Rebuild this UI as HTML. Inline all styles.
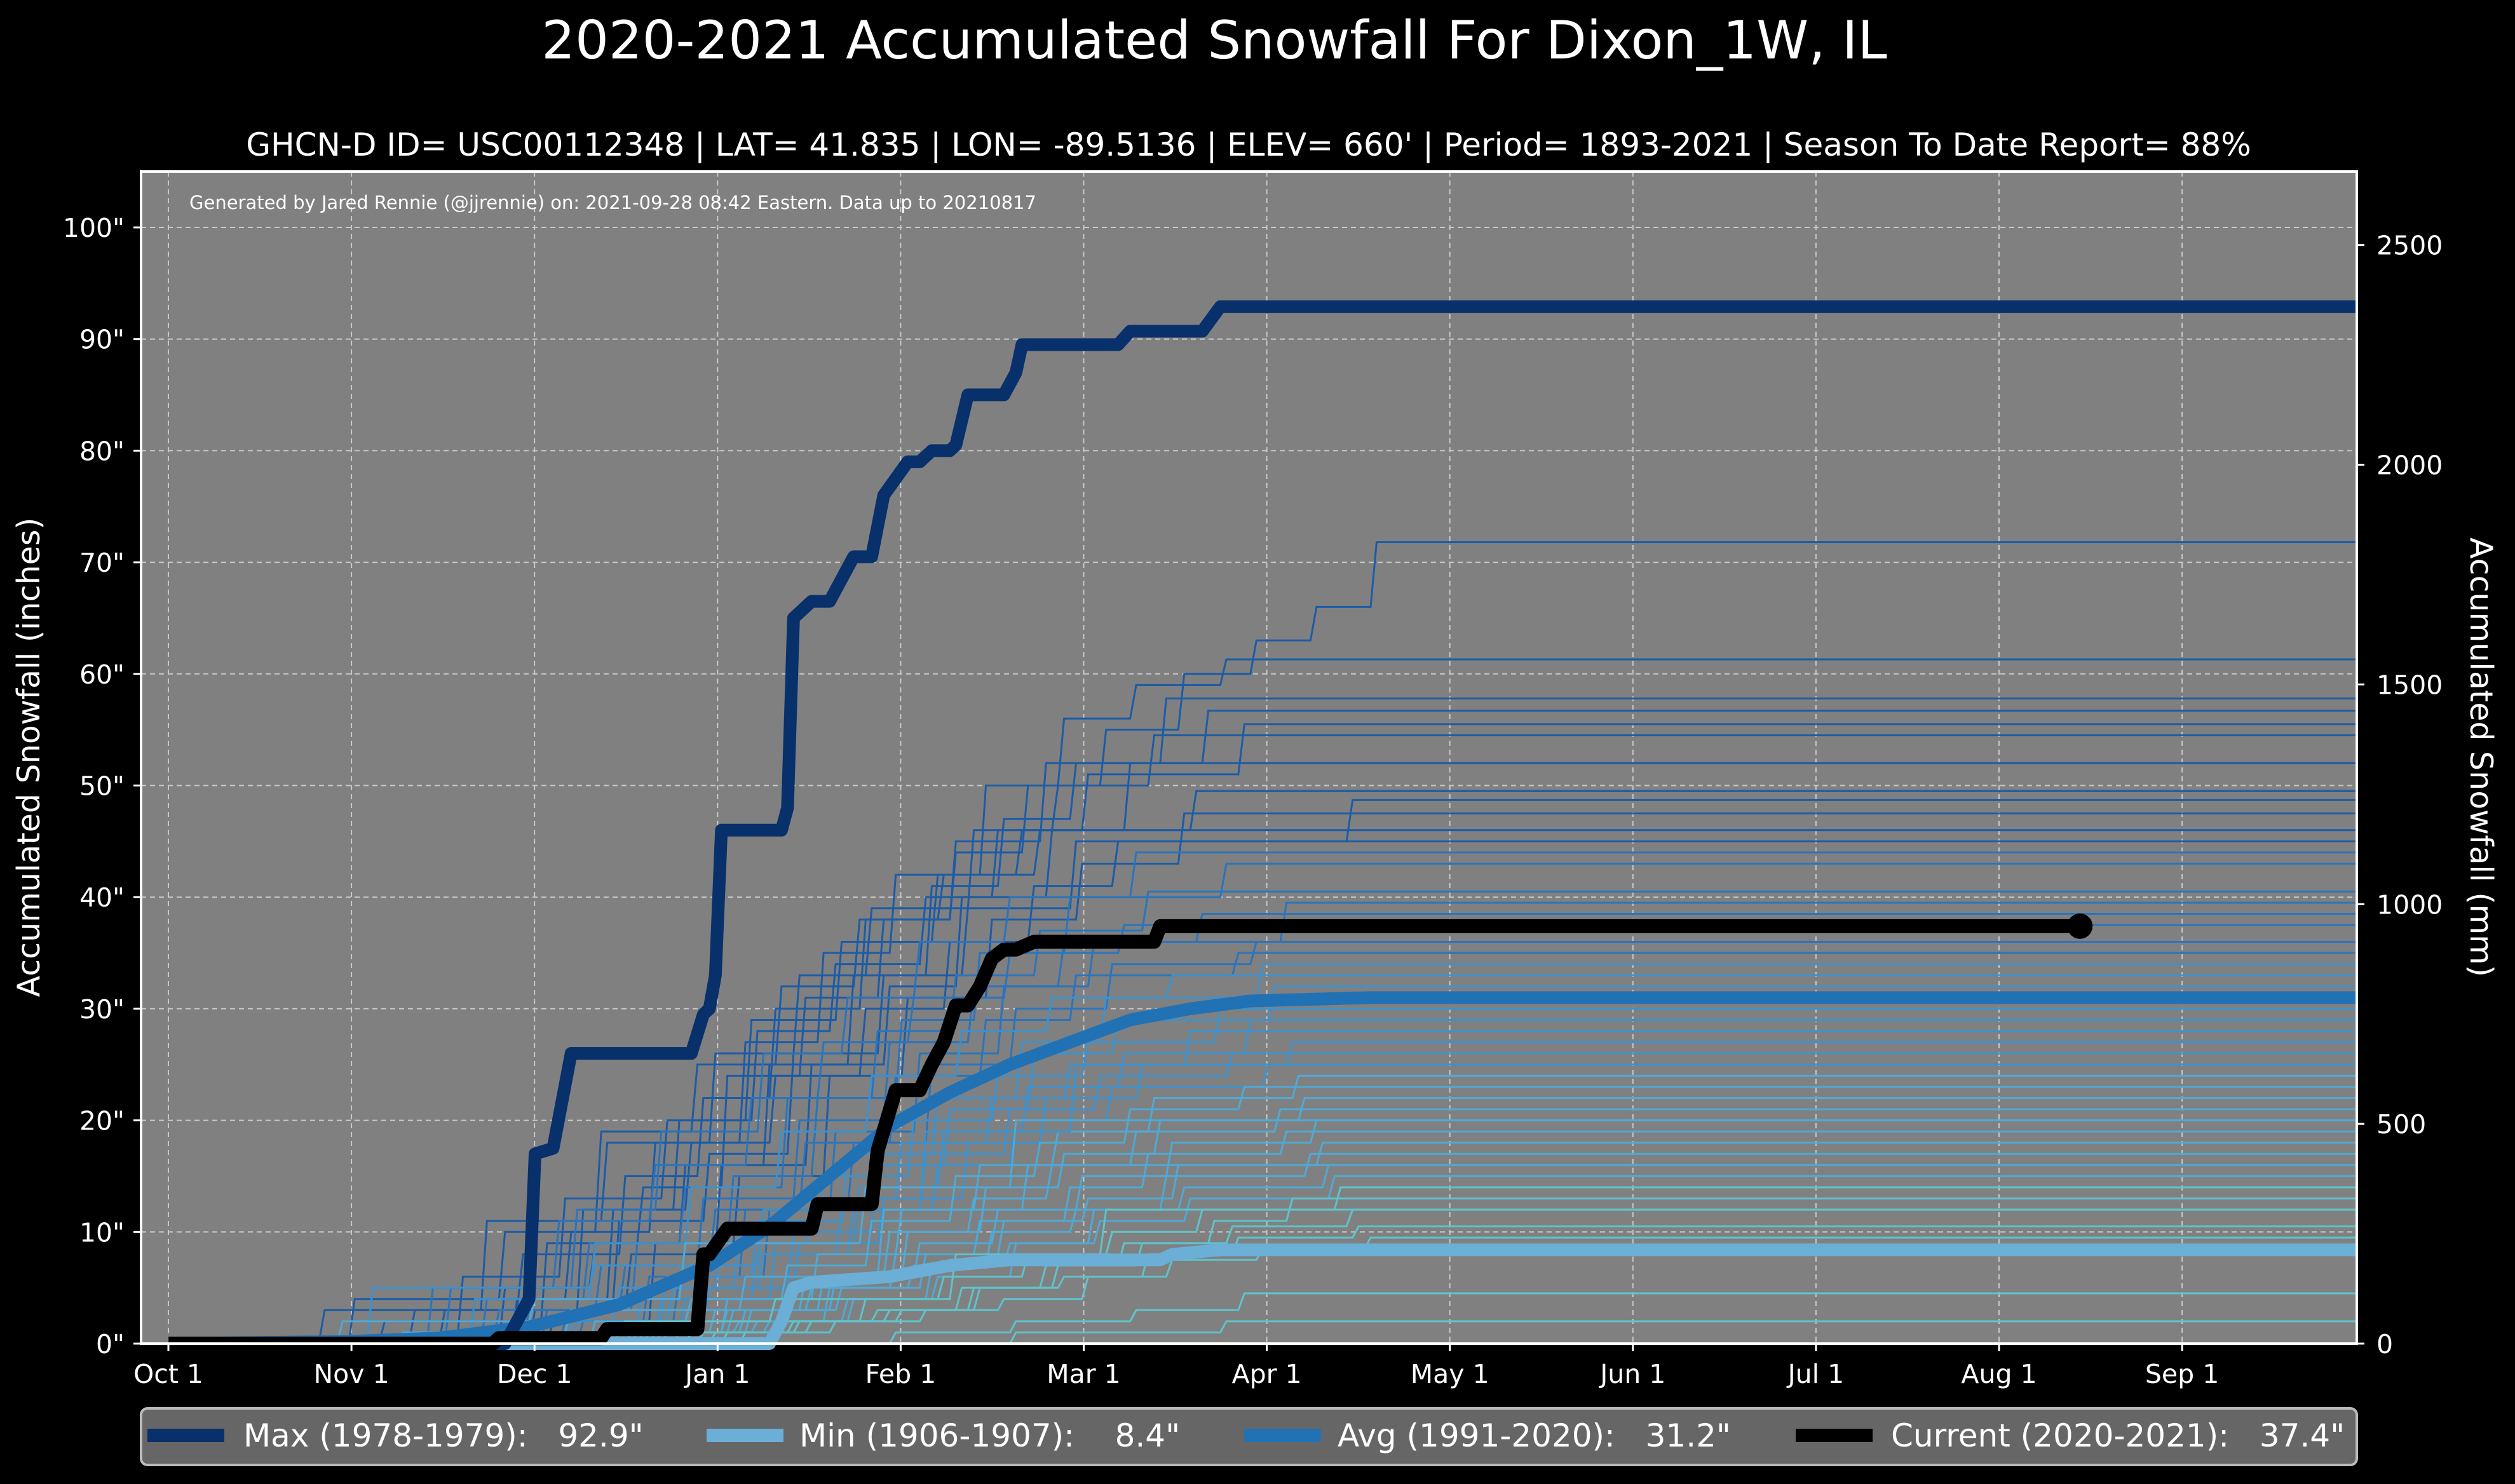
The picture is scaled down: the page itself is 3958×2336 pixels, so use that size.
<!DOCTYPE html>
<html><head><meta charset="utf-8"><style>
html,body{margin:0;padding:0;background:#000;}
svg{display:block;font-family:"DejaVu Sans","Liberation Sans",sans-serif;}
</style></head><body>
<svg id="chart" width="3958" height="2336" xmlns="http://www.w3.org/2000/svg">
<rect x="0" y="0" width="3958" height="2336" fill="#000"/>
<text x="1911" y="92" text-anchor="middle" font-size="83" fill="#fff">2020-2021 Accumulated Snowfall For Dixon_1W, IL</text>
<text x="1965" y="245" text-anchor="middle" font-size="50" fill="#fff">GHCN-D ID= USC00112348 | LAT= 41.835 | LON= -89.5136 | ELEV= 660' | Period= 1893-2021 | Season To Date Report= 88%</text>
<rect x="222" y="270" width="3487" height="1845" fill="#808080"/>
<g id="grid"></g>
<g id="seasons"></g>
<g id="main"></g>
<rect x="222" y="270" width="3487" height="1845" fill="none" stroke="#fff" stroke-width="4"/>
<text x="298" y="329" font-size="29" fill="#fff">Generated by Jared Rennie (@jjrennie) on: 2021-09-28 08:42 Eastern. Data up to 20210817</text>
<g id="axes"></g>
<text transform="translate(62,1192) rotate(-90)" text-anchor="middle" font-size="49" fill="#fff">Accumulated Snowfall (inches)</text>
<text transform="translate(3888,1192) rotate(90)" text-anchor="middle" font-size="49" fill="#fff">Accumulated Snowfall (mm)</text>
<g>
<rect x="222" y="2217" width="3487" height="89" rx="10" fill="#666" stroke="#bbb" stroke-width="4"/>
<rect x="232" y="2249" width="121" height="21" fill="#08306b"/>
<text x="383" y="2277" font-size="50" fill="#fff" xml:space="preserve">Max (1978-1979):   92.9"</text>
<rect x="1112" y="2249" width="121" height="21" fill="#6baed6"/>
<text x="1258" y="2277" font-size="50" fill="#fff" xml:space="preserve">Min (1906-1907):    8.4"</text>
<rect x="1958" y="2249" width="121" height="21" fill="#2171b5"/>
<text x="2105" y="2277" font-size="50" fill="#fff" xml:space="preserve">Avg (1991-2020):   31.2"</text>
<rect x="2826" y="2249" width="121" height="21" fill="#000"/>
<text x="2976" y="2277" font-size="50" fill="#fff" xml:space="preserve">Current (2020-2021):   37.4"</text>
</g>
</svg>
<script>
// ---- data ----
const monthLabels = ["Oct 1","Nov 1","Dec 1","Jan 1","Feb 1","Mar 1","Apr 1","May 1","Jun 1","Jul 1","Aug 1","Sep 1"];
const yTicks = [0,10,20,30,40,50,60,70,80,90,100];
const mmTicks = [0,500,1000,1500,2000,2500];
// Max season 1978-79: [day, inches]
const maxDays = [0,56,58,60,61,64,67,87,89,90,91,92,102,103,104,107,110,114,117,119,121,123,125,127,130,131,133,135,139,141,142,158,160,172,175,364];
const maxVals = [0,0,2,4,17,17.5,26,26,29.5,30,33,46,46,48,65,66.5,66.5,70.5,70.5,76,77.5,79,79,80,80,80.5,85,85,85,87,89.5,89.5,90.7,90.7,92.9,92.9];
// Current 2020-21
const curDays = [0,54,55,72,73,88,89,90,93,107,108,117,118,121,125,127,129,131,133,135,137,139,141,144,145,164,165,318];
const curVals = [0,0,0.5,0.5,1.3,1.3,8,8,10.3,10.3,12.5,12.5,17.3,22.7,22.7,25,27,30.3,30.3,32,34.5,35.3,35.3,36,36,36,37.4,37.4];
// Average 1991-2020
const avgDays = [0,30,45,60,75,90,100,110,120,130,140,150,160,170,180,200,364];
const avgVals = [0,0.2,0.5,1.5,3.5,7,10.5,15,19.5,22.5,25,27,29,30,30.7,31,31];
// Min 1906-07
const minDays = [0,100,102,104,107,120,130,140,165,167,175,364];
const minVals = [0,0,2,5,5.5,6,7,7.5,7.5,8,8.4,8.4];
// Other seasons: "day:cumulative inches" storm steps
const seasonSteps = [
"40:3 58:8 75:15 88:22 100:30 115:38 130:44 142:50 155:55 168:60 180:63 190:66 200:71.8",
"50:4 66:10 80:18 95:27 108:35 120:42 135:50 148:56 160:59 175:61.3",
"35:2 62:9 78:14 92:24 105:31 118:38 130:45 145:52 165:57.8",
"55:5 70:9 85:16 99:25 113:33 126:41 138:47 150:52 172:56.7",
"45:3 68:12 84:20 97:28 110:34 125:40 137:46 152:51 178:55.5",
"25:3 52:11 72:18 90:26 104:33 116:39 133:46 147:50 163:54.5",
"60:3 76:8 91:16 106:25 119:32 131:40 146:46 159:52",
"48:6 65:13 82:20 96:29 111:36 127:42 141:46 170:49.5",
"58:4 74:11 89:17 103:26 118:33 132:39 150:45 196:48.7",
"63:2 80:9 94:15 109:24 122:31 136:38 151:43 168:47.5",
"30:4 55:10 71:19 87:25 101:32 114:38 128:42 144:46",
"57:4 73:12 86:18 100:24 115:30 129:36 143:41 157:45",
"46:5 67:12 81:19 98:26 112:31 124:36 139:40 160:44",
"62:3 77:9 93:15 107:22 121:29 134:35 149:40 175:43",
"52:4 69:9 85:14 102:22 117:28 130:33 144:37 162:40.5",
"65:2 79:6 95:12 110:19 124:26 138:32 153:36 185:39.5",
"54:3 71:7 88:13 104:20 119:27 133:32 148:36 171:38.5",
"43:5 64:11 80:16 96:22 108:27 123:31 139:35 158:37.5",
"68:2 84:6 99:12 113:18 126:25 140:30 156:34 180:36",
"59:3 75:7 90:12 105:18 120:24 135:29 150:33 177:35",
"66:2 82:6 97:11 112:17 127:22 141:27 155:31 181:34",
"50:4 70:9 86:14 101:19 116:24 131:28 146:31 166:33",
"72:1 87:5 103:10 117:16 129:21 143:26 157:29 183:32",
"61:2 78:5 94:10 108:15 123:20 137:24 152:27 174:30",
"69:1 85:4 100:9 114:14 128:19 142:23 158:26 179:29",
"56:2 74:5 91:9 106:13 121:18 136:22 149:25 169:28",
"73:2 89:5 104:9 118:13 132:18 145:22 161:25 186:27",
"64:1 81:4 97:8 111:12 125:17 139:21 154:24 176:26",
"67:2 83:5 98:8 113:12 127:16 140:20 156:23 182:25",
"76:1 92:4 107:8 121:12 134:16 147:19 163:22 187:24",
"70:2 86:4 102:7 116:11 130:15 144:18 159:21 178:23",
"78:1 93:3 108:6 122:10 135:14 148:17 164:20 188:22",
"74:1 90:3 105:6 119:10 133:13 146:16 160:19 184:21",
"80:1 95:3 110:6 124:9 137:12 151:15 166:18 190:20",
"77:1 92:3 106:5 120:8 134:11 149:14 162:17 185:19",
"82:1 96:3 111:5 125:8 138:11 152:13 167:16 191:18",
"79:1 94:2 109:5 123:7 136:10 150:12 165:15 189:17",
"84:1 99:2 113:4 126:7 139:9 153:12 168:14 192:16",
"81:1 97:2 112:4 127:6 140:9 154:11 169:13 193:15",
"86:1 101:2 115:4 128:6 142:8 156:10 171:12 194:14",
"88:1 103:2 117:3 131:5 145:7 158:9 173:11 186:13",
"90:1 104:2 119:3 133:5 147:7 161:9 176:10.5 196:12",
"92:1 106:2 121:3 134:5 148:6 162:8 177:9.5 197:10.5",
"95:1 110:2 125:3 138:4 152:6 166:7.5 181:8.5 199:9.5",
"120:1 140:2 160:3 178:4.5",
"140:1 175:2",
"33:5 70:7 98:12 125:19 150:25",
"28:2 60:4 85:9 115:14 140:20",
"38:1 66:3 95:6 118:12 142:16",
"48:1 75:2 100:4 130:8 155:12"
];

// ---- axes functions ----
const X0=265, DX=9.46, Y0=2115, DY=17.57, TICK_STEP_DAYS=335/11;
const xs = d => X0 + d*DX;
const ys = v => Y0 - v*DY;
const NS="http://www.w3.org/2000/svg";
function mk(tag, attrs, parent){const e=document.createElementNS(NS,tag);for(const k in attrs)e.setAttribute(k,attrs[k]);parent.appendChild(e);return e;}
const grid=document.getElementById('grid'), axes=document.getElementById('axes');
monthLabels.forEach((lab,i)=>{
  const x=xs(i*TICK_STEP_DAYS);
  const l=mk('line',{x1:x,x2:x,y1:270,y2:2115,stroke:'#c8c8c8','stroke-width':2,'stroke-dasharray':'8,6'},grid);
  
  
  const t=mk('line',{x1:x,x2:x,y1:2115,y2:2127,stroke:'#fff','stroke-width':3},axes);
  
  
  const tx=mk('text',{x:x,y:2177,'text-anchor':'middle','font-size':41,fill:'#fff'},axes);
  tx.textContent=lab;
  
  
});
yTicks.forEach(v=>{
  const l=mk('line',{x1:222,x2:3709,y1:ys(v),y2:ys(v),stroke:'#c8c8c8','stroke-width':2,'stroke-dasharray':'8,6'},grid);
  
  
  const t=mk('line',{x1:210,x2:222,y1:ys(v),y2:ys(v),stroke:'#fff','stroke-width':3},axes);
  
  
  const tx=mk('text',{x:196,y:ys(v)+15,'text-anchor':'end','font-size':41,fill:'#fff'},axes);
  tx.textContent=v+'"';
  
  
});
mmTicks.forEach(v=>{
  const y=ys(v/25.4);
  const t=mk('line',{x1:3709,x2:3721,y1:y,y2:y,stroke:'#fff','stroke-width':3},axes);
  
  
  const tx=mk('text',{x:3740,y:y+15,'font-size':41,fill:'#fff'},axes);
  tx.textContent=v;
  
  
});

// ---- seasons ----
const seasons=document.getElementById('seasons');
function colorFor(v){
  if(v>=45) return '#1c5ba6';
  if(v>=35) return '#2a74bd';
  if(v>=25) return '#3c92cf';
  if(v>=15) return '#4eaad6';
  return '#5ec3cc';
}
seasonSteps.forEach(str=>{
  const steps=str.split(' ').map(s=>s.split(':').map(Number));
  let d='M'+xs(0)+','+ys(0);
  let prev=0;
  steps.forEach(([day,v])=>{
    d+=' L'+xs(day)+','+ys(prev)+' L'+xs(day+1)+','+ys(v);
    prev=v;
  });
  d+=' L'+xs(364)+','+ys(prev);
  const p=mk('path',{d:d,fill:'none',stroke:colorFor(prev),'stroke-width':3},seasons);
  
  
});

// ---- main series ----
const main=document.getElementById('main');
function line(days,vals,color,w,name){
  const d=days.map((dd,i)=>(i?'L':'M')+xs(dd)+','+ys(vals[i])).join(' ');
  const p=mk('path',{d:d,fill:'none',stroke:color,'stroke-width':w,'stroke-linejoin':'round'},main);
  
  
}
line(minDays,minVals,'#6baed6',20,'min-line');
line(avgDays,avgVals,'#2171b5',20,'avg-line');
line(maxDays,maxVals,'#08306b',20,'max-line');
line(curDays,curVals,'#000',22,'current-line');
const c=mk('circle',{cx:xs(curDays[curDays.length-1]),cy:ys(curVals[curVals.length-1]),r:20,fill:'#000'},main);


</script>
</body></html>
